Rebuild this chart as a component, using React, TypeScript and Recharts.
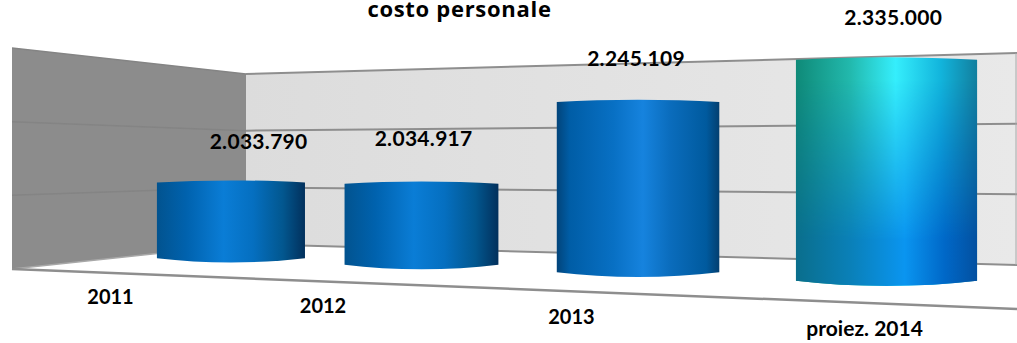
import { BarChart, Bar, XAxis, YAxis, LabelList } from 'recharts';

const categorie = ['2011', '2012', '2013', 'proiez. 2014'];
const valori = [2033790, 2034917, 2245109, 2335000];
const assiTicks = [1800000, 2000000, 2200000, 2400000];

const W = 1017;
const H = 343;
const YMIN = 1800000;
const YMAX = 2400000;
const FONT = 'Lato, "Noto Sans", sans-serif';

// vista 3D: piano piatto del grafico -> schermo
const banda = W / categorie.length;
const persp = (u: number) => 1 - 0.06 * u;
const projX = (x: number) => {
  const u = x / banda - 0.5;
  return (165.2 * u + 231) / persp(u) - 2;
};
const projY = (x: number, y: number) => {
  const u = x / banda - 0.5;
  const v = (H - y) / H;
  return (263 - 9.3 * u - 211 * v) / persp(u);
};

// aggiustamenti di layout per categoria
const largBarra = [1.1, 1.01, 0.935, 0.905];
const spostaValore = [[29.5, -40], [4, -44], [0, -42], [9, -41]];
const spostaCategoria = [[-118.5, 33], [-96.5, 35], [-64.5, 38], [-19.5, 41]];

const dati = categorie.map((nome, i) => ({ nome, costo: valori[i] }));
const fmt = (n: number) => String(n).replace(/\B(?=(\d{3})+(?!\d))/g, '.');
const muroY = (a: number, b: number, v: number) => a - (a - b) * v;

function Cilindro(props: any) {
  const { x, y, width, height, index } = props;
  const cx = x + width / 2;
  const half = (width * largBarra[index]) / 2;
  const l = projX(cx - half);
  const r = projX(cx + half);
  const scala = 1 / persp(cx / banda - 0.5);
  const sopra = 2.5 * scala * 0.85;
  const sotto = 5 * scala * 0.85;
  const top = projY(cx, y) + sopra;
  const bot = projY(cx, y + height) - sotto;
  const q = (r - l) * 0.32;
  // fianchi dritti, curve quasi piatte al centro
  const d = `M${l},${top} C${l + q},${top - 1.33 * sopra} ${r - q},${top - 1.33 * sopra} ${r},${top} L${r},${bot} C${r - q},${bot + 1.33 * sotto} ${l + q},${bot + 1.33 * sotto} ${l},${bot} Z`;
  if (index === 3) {
    return (
      <g>
        <path d={d} fill="url(#bluAlto)" />
        <path d={d} fill="url(#bluBasso)" mask="url(#sfuma)" />
      </g>
    );
  }
  return <path d={d} fill={index === 2 ? 'url(#blu2)' : 'url(#blu1)'} />;
}

function EtichettaValore(props: any) {
  const { x, y, width, index, value } = props;
  const cx = x + width / 2;
  return (
    <text
      x={projX(cx) + spostaValore[index][0]}
      y={projY(cx, y) + spostaValore[index][1]}
      textAnchor="middle"
      dominantBaseline="central"
      fontFamily={FONT}
      fontSize={21}
      fontWeight={700}
      letterSpacing={0.3}
      fill="#000"
    >
      {fmt(value)}
    </text>
  );
}

function TickCategoria(props: any) {
  const { x, index, payload } = props;
  return (
    <text
      x={projX(x) + spostaCategoria[index][0]}
      y={projY(x, H) + spostaCategoria[index][1]}
      textAnchor="middle"
      dominantBaseline="central"
      fontFamily={FONT}
      fontSize={index === 3 ? 21 : 20}
      fontWeight={700}
      fill="#000"
    >
      {payload.value}
    </text>
  );
}

export default function App() {
  return (
    <div style={{ position: 'absolute', left: 0, top: 0, width: W, height: H, background: '#fff', overflow: 'hidden' }}>
      <BarChart width={W} height={H} data={dati} margin={{ top: 0, right: 0, bottom: 0, left: 0 }} barCategoryGap="12.5%">
        <defs>
          <linearGradient id="muro" x1="0" y1="0" x2="1" y2="0">
            <stop offset="0" stopColor="#dcdcdc" />
            <stop offset="1" stopColor="#e9e9e9" />
          </linearGradient>
          <linearGradient id="blu1" x1="0" y1="0" x2="1" y2="0">
            <stop offset="0" stopColor="#02538f" />
            <stop offset="0.2" stopColor="#0062ae" />
            <stop offset="0.45" stopColor="#0a7dd6" />
            <stop offset="0.65" stopColor="#056fc0" />
            <stop offset="0.85" stopColor="#02578f" />
            <stop offset="1" stopColor="#02305c" />
          </linearGradient>
          <linearGradient id="blu2" x1="0" y1="0" x2="1" y2="0">
            <stop offset="0" stopColor="#02447a" />
            <stop offset="0.08" stopColor="#005da6" />
            <stop offset="0.35" stopColor="#0870c4" />
            <stop offset="0.53" stopColor="#1683de" />
            <stop offset="0.7" stopColor="#0a6cbc" />
            <stop offset="0.92" stopColor="#005a9e" />
            <stop offset="1" stopColor="#033f70" />
          </linearGradient>
          <linearGradient id="bluAlto" x1="0" y1="0" x2="1" y2="0">
            <stop offset="0" stopColor="#0f8a78" />
            <stop offset="0.3" stopColor="#22b9ad" />
            <stop offset="0.55" stopColor="#35eefc" />
            <stop offset="0.8" stopColor="#12b4dc" />
            <stop offset="1" stopColor="#127f9e" />
          </linearGradient>
          <linearGradient id="bluBasso" x1="0" y1="0" x2="1" y2="0">
            <stop offset="0" stopColor="#0a6e8c" />
            <stop offset="0.3" stopColor="#0a80b8" />
            <stop offset="0.6" stopColor="#0a95f0" />
            <stop offset="0.82" stopColor="#0068c8" />
            <stop offset="1" stopColor="#0350a0" />
          </linearGradient>
          <linearGradient id="verticale" x1="0" y1="0" x2="0" y2="1">
            <stop offset="0.1" stopColor="#000" />
            <stop offset="0.8" stopColor="#fff" />
          </linearGradient>
          <mask id="sfuma" maskContentUnits="objectBoundingBox">
            <rect x="0" y="0" width="1" height="1" fill="url(#verticale)" />
          </mask>
        </defs>
        <polygon points={`246,74 ${W},53 ${W},265 246,244`} fill="url(#muro)" />
        <polygon points="12,48 246,74 246,244 12,269" fill="#8c8c8c" />
        {assiTicks.map((t) => {
          const v = (t - YMIN) / (YMAX - YMIN);
          return (
            <g key={t}>
              <line x1={12} y1={muroY(269, 48, v)} x2={246} y2={muroY(244, 74, v)} stroke={t === YMIN ? '#a8a8a8' : '#848484'} strokeWidth={1.5} />
              <line x1={246} y1={muroY(244, 74, v)} x2={W} y2={muroY(265, 53, v)} stroke="#8e8e8e" strokeWidth={2} />
            </g>
          );
        })}
        <line x1={1016} y1={53} x2={1016} y2={265} stroke="#a8a8a8" strokeWidth={1} />
        <line x1={12} y1={269} x2={W} y2={309} stroke="#8e8e8e" strokeWidth={2.5} />
        <XAxis dataKey="nome" axisLine={false} tickLine={false} height={1} interval={0} tick={TickCategoria as any} />
        <YAxis hide domain={[YMIN, YMAX]} ticks={assiTicks} />
        <Bar dataKey="costo" isAnimationActive={false} shape={Cilindro as any}>
          <LabelList dataKey="costo" content={EtichettaValore as any} />
        </Bar>
        <text x={459.5} y={17} textAnchor="middle" fontFamily='"Open Sans", sans-serif' fontSize={22} fontWeight={700} letterSpacing={0.7} fill="#000">
          costo personale
        </text>
      </BarChart>
    </div>
  );
}
